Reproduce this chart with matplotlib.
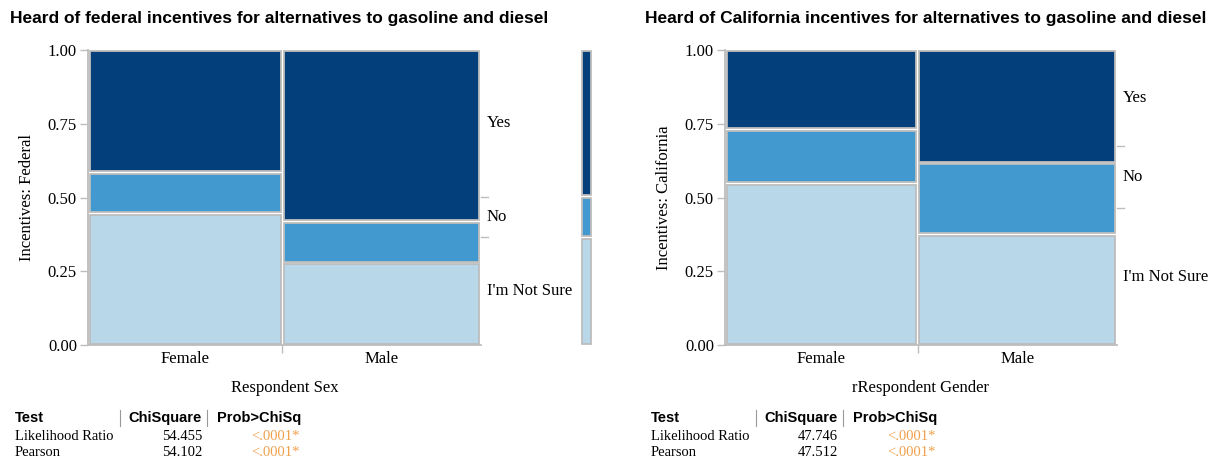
import matplotlib
matplotlib.use("Agg")
import matplotlib.pyplot as plt
from matplotlib.patches import Rectangle

# ---- data ----
categories = ["Female", "Male"]
levels = ["I'm Not Sure", "No", "Yes"]          # bottom to top
colors = ["#b8d8ea", "#4199cf", "#03407b"]

fed_col_share = [0.494, 0.506]
fed_props = {"Female": [0.447, 0.139, 0.414], "Male": [0.278, 0.142, 0.580]}
fed_overall = [0.366, 0.136, 0.498]

ca_col_share = [0.492, 0.508]
ca_props = {"Female": [0.549, 0.180, 0.271], "Male": [0.376, 0.241, 0.383]}
ca_overall = [0.464, 0.211, 0.325]

fed_tests = [("Likelihood Ratio", "54.455", "<.0001*"), ("Pearson", "54.102", "<.0001*")]
ca_tests = [("Likelihood Ratio", "47.746", "<.0001*"), ("Pearson", "47.512", "<.0001*")]

titles = ["Heard of federal incentives for alternatives to gasoline and diesel",
          "Heard of California incentives for alternatives to gasoline and diesel"]
ylabels = ["Incentives: Federal", "Incentives: California"]
xlabels = ["Respondent Sex", "rRespondent Gender"]

SERIF = ["Liberation Serif", "DejaVu Serif"]
SANS = ["Liberation Sans", "DejaVu Sans"]
TITLE = ["Liberation Sans Narrow", "Liberation Sans", "DejaVu Sans"]
EDGE = "#bdbdbd"
ORANGE = "#f0a04b"

fig = plt.figure(figsize=(12.12, 4.63), dpi=100)
W, H = 1212, 463

def fx(px):
    return px / W

def fy(py):
    return 1 - py / H

def mosaic(ax, shares, props, overall, ylabel, xlabel):
    gx, gy = 0.004, 0.005
    x0 = 0.0
    for cat, sh in zip(categories, shares):
        y0 = 0.0
        for lv, p, c in zip(levels, props[cat], colors):
            ax.add_patch(Rectangle((x0 + gx, y0 + gy), sh - 2 * gx, p - 2 * gy,
                                   facecolor=c, edgecolor=EDGE, lw=1.3))
            y0 += p
        x0 += sh
    ax.set_xlim(0, 1)
    ax.set_ylim(0, 1)
    mids = [shares[0] / 2, shares[0] + shares[1] / 2]
    ax.set_xticks(mids)
    ax.set_xticklabels(categories, fontsize=12, family=SERIF)
    ax.set_xticks([shares[0]], minor=True)
    ax.tick_params(axis="x", which="major", length=0, pad=4)
    ax.tick_params(axis="x", which="minor", length=6, color=EDGE, width=1)
    ax.set_yticks([0, 0.25, 0.5, 0.75, 1.0])
    ax.set_yticklabels(["0.00", "0.25", "0.50", "0.75", "1.00"], fontsize=12, family=SERIF)
    ax.tick_params(axis="y", length=6, color=EDGE, width=1, pad=2)
    for s in ["top", "right"]:
        ax.spines[s].set_visible(False)
    for s in ["left", "bottom"]:
        ax.spines[s].set_color(EDGE)
        ax.spines[s].set_linewidth(1.3)
    ax.set_ylabel(ylabel, fontsize=12, family=SERIF, labelpad=9)
    ax.set_xlabel(xlabel, fontsize=12, family=SERIF, labelpad=10)
    # right side category labels and boundary ticks
    cum = 0.0
    for i, (lv, p) in enumerate(zip(levels, overall)):
        ax.text(1.015, cum + p / 2, lv, transform=ax.transAxes, va="center", ha="left",
                fontsize=12, family=SERIF)
        cum += p
        if i < len(levels) - 1:
            ax.plot([1.0, 1.018], [cum, cum], transform=ax.transAxes, color=EDGE,
                    lw=1, clip_on=False)

def table(x, tests):
    ytop = 418
    fig.text(fx(x), fy(ytop), "Test", fontsize=10.5, fontweight="bold", family=SANS, va="center")
    fig.text(fx(x + 187), fy(ytop), "ChiSquare", fontsize=10.5, fontweight="bold", family=SANS,
             va="center", ha="right")
    fig.text(fx(x + 202), fy(ytop), "Prob>ChiSq", fontsize=10.5, fontweight="bold", family=SANS,
             va="center", ha="left")
    for lx in (x + 105, x + 192):
        fig.add_artist(plt.Line2D([fx(lx), fx(lx)], [fy(410), fy(426)], color="#999999", lw=0.8))
    for i, (name, val, p) in enumerate(tests):
        yy = 437 + i * 15
        fig.text(fx(x), fy(yy), name, fontsize=10.5, family=SERIF, va="center")
        fig.text(fx(x + 187), fy(yy), val, fontsize=10.5, family=SERIF, va="center", ha="right")
        fig.text(fx(x + 285), fy(yy), p, fontsize=10.5, family=SERIF, va="center", ha="right",
                 color=ORANGE)

# left plot
ax1 = fig.add_axes([fx(88), fy(345), fx(481 - 88), fy(50) - fy(345)])
mosaic(ax1, fed_col_share, fed_props, fed_overall, ylabels[0], xlabels[0])

# marginal bar
axm = fig.add_axes([fx(581), fy(345), fx(11), fy(50) - fy(345)])
cum = 0.0
for p, c in zip(fed_overall, colors):
    axm.add_patch(Rectangle((0.12, cum + 0.005), 0.76, p - 0.01, facecolor=c,
                            edgecolor=EDGE, lw=1.3))
    cum += p
axm.set_xlim(0, 1)
axm.set_ylim(0, 1)
axm.axis("off")

# right plot
ax2 = fig.add_axes([fx(725), fy(345), fx(1117 - 725), fy(50) - fy(345)])
mosaic(ax2, ca_col_share, ca_props, ca_overall, ylabels[1], xlabels[1])

fig.text(fx(10), fy(19), titles[0], fontsize=12.5, fontweight="bold", family=TITLE, va="center")
fig.text(fx(645), fy(19), titles[1], fontsize=12.5, fontweight="bold", family=TITLE, va="center")

table(15, fed_tests)
table(651, ca_tests)

fig.savefig("out.png", dpi=100)
